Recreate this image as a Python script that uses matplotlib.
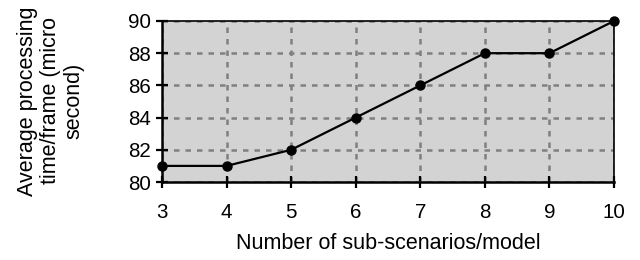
import matplotlib
matplotlib.use("Agg")
import matplotlib.pyplot as plt

plt.rcParams['font.family'] = ['Liberation Sans', 'DejaVu Sans']

sub_scenarios = [3, 4, 5, 6, 7, 8, 9, 10]
avg_time = [81, 81, 82, 84, 86, 88, 88, 90]
y_ticks = [80, 82, 84, 86, 88, 90]

fig = plt.figure(figsize=(6.4, 2.6), dpi=100)
ax = fig.add_axes([162 / 640, 1 - 182 / 260, (614 - 162) / 640, (182 - 21) / 260])
ax.set_facecolor('#d3d3d3')

ax.plot(sub_scenarios, avg_time, color='black', linewidth=1.6,
        marker='o', markersize=6.5, clip_on=False, zorder=3)

ax.set_xlim(3, 10)
ax.set_ylim(80, 90)
ax.set_xticks(sub_scenarios)
ax.set_yticks(y_ticks)
ax.grid(color='#808080', linestyle=(0, (2.2, 2.4)), linewidth=1.8)

for side in ['left', 'bottom']:
    ax.spines[side].set_linewidth(1.8)
for side in ['top', 'right']:
    ax.spines[side].set_linewidth(1.2)

ax.tick_params(axis='both', direction='inout', length=8, width=1.6,
               labelsize=14.8, colors='black')
ax.tick_params(axis='x', pad=11)
ax.tick_params(axis='y', pad=4)

ax.set_xlabel('Number of sub-scenarios/model', fontsize=15.5, labelpad=8)
fig.text(51 / 640, 1 - 101 / 260, 'Average processing\ntime/frame (micro\nsecond)',
         rotation=90, ha='center', va='center', fontsize=15.5, linespacing=1.15)

fig.savefig('out.png', dpi=100)
